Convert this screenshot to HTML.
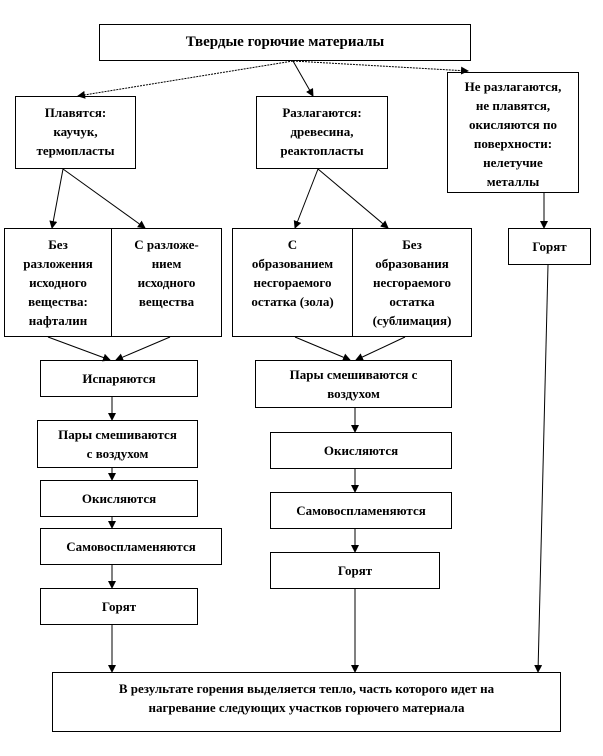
<!DOCTYPE html>
<html><head><meta charset="utf-8"><style>
body{margin:0;background:#fff;width:603px;height:756px;position:relative;overflow:hidden;font-family:"Liberation Serif","DejaVu Serif",serif;font-weight:bold;color:#000}
.b{position:absolute;border:1.3px solid #000;box-sizing:border-box;text-align:center;font-size:13px;line-height:19px;background:#fff}
svg{position:absolute;left:0;top:0}
</style></head><body>
<div class="b" style="left:99px;top:24px;width:372px;height:37px;font-size:15px;line-height:35px">Твердые горючие материалы</div>
<div class="b" style="left:15px;top:96px;width:121px;height:73px;padding-top:6px">Плавятся:<br>каучук,<br>термопласты</div>
<div class="b" style="left:256px;top:96px;width:132px;height:73px;padding-top:6px">Разлагаются:<br>древесина,<br>реактопласты</div>
<div class="b" style="left:447px;top:72px;width:132px;height:121px;padding-top:4px">Не разлагаются,<br>не плавятся,<br>окисляются по<br>поверхности:<br>нелетучие<br>металлы</div>
<div class="b" style="left:4px;top:228px;width:108px;height:109px;padding-top:6px">Без<br>разложения<br>исходного<br>вещества:<br>нафталин</div>
<div class="b" style="left:111px;top:228px;width:111px;height:109px;padding-top:6px">С разложе-<br>нием<br>исходного<br>вещества</div>
<div class="b" style="left:232px;top:228px;width:121px;height:109px;padding-top:6px">С<br>образованием<br>несгораемого<br>остатка (зола)</div>
<div class="b" style="left:352px;top:228px;width:120px;height:109px;padding-top:6px">Без<br>образования<br>несгораемого<br>остатка<br>(сублимация)</div>
<div class="b" style="left:508px;top:228px;width:83px;height:37px;line-height:35px">Горят</div>

<div class="b" style="left:40px;top:360px;width:158px;height:37px;line-height:35px">Испаряются</div>
<div class="b" style="left:37px;top:420px;width:161px;height:48px;padding-top:4px">Пары смешиваются<br>с воздухом</div>
<div class="b" style="left:40px;top:480px;width:158px;height:37px;line-height:35px">Окисляются</div>
<div class="b" style="left:40px;top:528px;width:182px;height:37px;line-height:35px">Самовоспламеняются</div>
<div class="b" style="left:40px;top:588px;width:158px;height:37px;line-height:35px">Горят</div>

<div class="b" style="left:255px;top:360px;width:197px;height:48px;padding-top:4px">Пары смешиваются с<br>воздухом</div>
<div class="b" style="left:270px;top:432px;width:182px;height:37px;line-height:35px">Окисляются</div>
<div class="b" style="left:270px;top:492px;width:182px;height:37px;line-height:35px">Самовоспламеняются</div>
<div class="b" style="left:270px;top:552px;width:170px;height:37px;line-height:35px">Горят</div>

<div class="b" style="left:52px;top:672px;width:509px;height:60px;padding-top:6px">В результате горения выделяется тепло, часть которого идет на<br>нагревание следующих участков горючего материала</div>

<svg width="603" height="756">
<defs><marker id="a" markerWidth="8" markerHeight="8" refX="7" refY="4" orient="auto" markerUnits="userSpaceOnUse"><path d="M0,0 L8,4 L0,8 z" fill="#000"/></marker></defs>
<g stroke="#000" stroke-width="1" fill="none" marker-end="url(#a)">
<line x1="293" y1="61" x2="78" y2="96" stroke-dasharray="2,1"/>
<line x1="293" y1="61" x2="313" y2="96"/>
<line x1="293" y1="61" x2="468" y2="71" stroke-dasharray="2,1"/>
<line x1="63" y1="169" x2="52" y2="228"/>
<line x1="63" y1="169" x2="145" y2="228"/>
<line x1="318" y1="169" x2="295" y2="228"/>
<line x1="318" y1="169" x2="388" y2="228"/>
<line x1="544" y1="193" x2="544" y2="228"/>
<line x1="48" y1="337" x2="110" y2="360"/>
<line x1="170" y1="337" x2="116" y2="360"/>
<line x1="295" y1="337" x2="350" y2="360"/>
<line x1="405" y1="337" x2="356" y2="360"/>
<line x1="112" y1="397" x2="112" y2="420"/>
<line x1="112" y1="468" x2="112" y2="480"/>
<line x1="112" y1="517" x2="112" y2="528"/>
<line x1="112" y1="565" x2="112" y2="588"/>
<line x1="112" y1="625" x2="112" y2="672"/>
<line x1="355" y1="408" x2="355" y2="432"/>
<line x1="355" y1="469" x2="355" y2="492"/>
<line x1="355" y1="529" x2="355" y2="552"/>
<line x1="355" y1="589" x2="355" y2="672"/>
<line x1="548" y1="265" x2="538" y2="672"/>
</g>
</svg>
</body></html>
